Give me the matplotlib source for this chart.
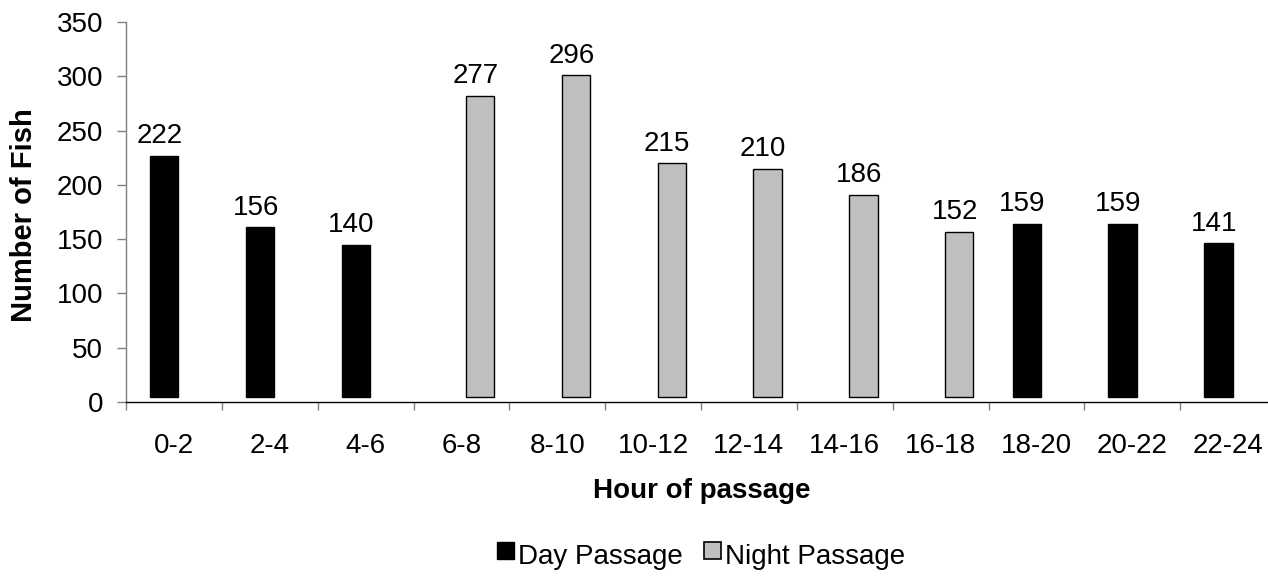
import matplotlib
matplotlib.use("Agg")
import matplotlib.pyplot as plt
import numpy as np
from matplotlib.patches import Patch, Rectangle
from matplotlib.legend_handler import HandlerPatch

plt.rcParams["font.family"] = ["Liberation Sans", "DejaVu Sans"]

hours = ["0-2", "2-4", "4-6", "6-8", "8-10", "10-12", "12-14",
         "14-16", "16-18", "18-20", "20-22", "22-24"]
# None where the series has no bar in that slot
day = [222, 156, 140, None, None, None, None, None, None, 159, 159, 141]
night = [None, None, None, 277, 296, 215, 210, 186, 152, None, None, None]

DAY_C = "#000000"
NIGHT_C = "#c0c0c0"

fig = plt.figure(figsize=(12.68, 5.79), dpi=100)
# the category axis runs a little past the right edge, as in the original
ax = fig.add_axes([126 / 1268, 177 / 579, 1150 / 1268, 380 / 579])

x = np.arange(len(hours))
w = 0.295
dx = 0.047   # excel-ish depth shift of the columns
lift = 5     # columns float a few units above the axis

for vals, side, color, ec in ((day, -1, DAY_C, DAY_C),
                              (night, 1, NIGHT_C, "#000000")):
    idx = [i for i, v in enumerate(vals) if v is not None]
    hv = [vals[i] for i in idx]
    pos = x[idx] + side * w / 2
    ax.bar(pos + dx, hv, w, bottom=lift, color=color, edgecolor=ec,
           linewidth=1.0, zorder=3)
    for p, v in zip(pos, hv):
        ax.annotate(str(v), (p, v), xytext=(0, 13), textcoords="offset points",
                    ha="center", va="baseline", fontsize=20)

ax.set_xlim(-0.5, len(hours) - 0.5)
ax.set_ylim(0, 350)
ax.set_yticks(np.arange(0, 351, 50))
ax.tick_params(axis="y", direction="out", length=6.5, width=1.0,
               color="#808080", labelsize=20, pad=10)

# ticks between categories, labels in the middle
ax.set_xticks(np.arange(-0.5, len(hours), 1.0))
ax.set_xticklabels([])
ax.set_xticks(x, minor=True)
ax.set_xticklabels(hours, minor=True)
ax.tick_params(axis="x", which="major", direction="out", length=6,
               width=1.0, color="#808080")
ax.tick_params(axis="x", which="minor", length=0, labelsize=20, pad=22)

for s in ("top", "right"):
    ax.spines[s].set_visible(False)
ax.spines["left"].set_color("#808080")
ax.spines["bottom"].set_color("#000000")
ax.spines["left"].set_linewidth(1.0)
ax.spines["bottom"].set_linewidth(1.0)

fig.text(24 / 1268, 1 - 215 / 579, "Number of Fish", rotation=90,
         ha="center", va="center", fontsize=21, fontweight="bold")
fig.text(702 / 1268, 1 - 498 / 579, "Hour of passage",
         ha="center", va="baseline", fontsize=20, fontweight="bold")


# small square key sitting a bit above the text baseline, excel style
def square_key(legend, orig_handle, xdescent, ydescent, width, height,
               fontsize):
    side = 12.5
    return Rectangle((-xdescent, -ydescent + 3.5), side, side)


handles = [Patch(facecolor=DAY_C, edgecolor=DAY_C, linewidth=1.0),
           Patch(facecolor=NIGHT_C, edgecolor="#000000", linewidth=1.2)]
fig.legend(handles, ["Day Passage", "Night Passage"], loc="center",
           bbox_to_anchor=(701 / 1268, 1 - 557 / 579), ncol=2, frameon=False,
           fontsize=20, handlelength=0.65, handletextpad=0.12,
           columnspacing=0.75, borderpad=0,
           handler_map={Patch: HandlerPatch(patch_func=square_key)})

fig.savefig("out.png", dpi=100)
